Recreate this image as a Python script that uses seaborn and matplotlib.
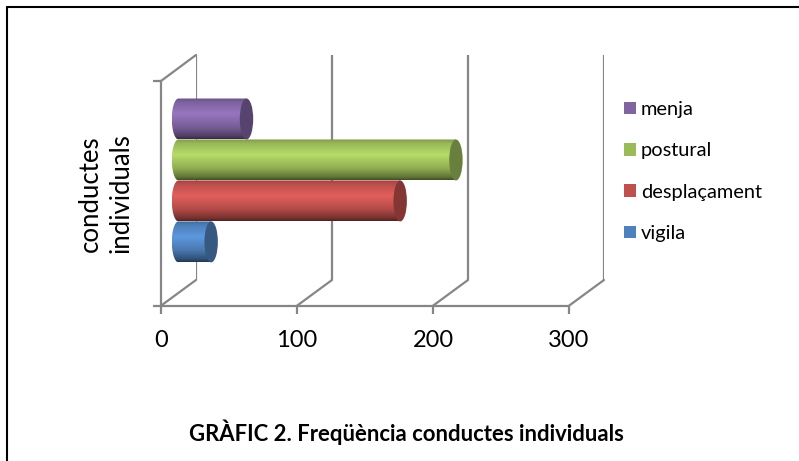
import numpy as np
import pandas as pd
import matplotlib
matplotlib.use("Agg")
import matplotlib.pyplot as plt
from matplotlib.colors import to_rgb
from matplotlib.patches import ConnectionPatch, Ellipse, PathPatch
from matplotlib.path import Path
import seaborn as sns

CATEGORY = "conductes individuals"
series_names = ["menja", "postural", "desplaçament", "vigila"]
series_values = [50, 204, 163, 24]
series_colors = ["#8064A2", "#9BBB59", "#C0504D", "#4F81BD"]
x_ticks = [0, 100, 200, 300]
y_label = "conductes\nindividuals"
title = "GRÀFIC 2. Freqüència conductes individuals"

W, H = 799, 461
GRID = "#868686"
PX_PER_UNIT = 408 / 300
sns.set_theme(style="white")
plt.rcParams["font.family"] = ["Lato", "DejaVu Sans"]
plt.rcParams["text.color"] = "black"
plt.rcParams["axes.labelcolor"] = "black"
plt.rcParams["xtick.labelcolor"] = "black"
fig = plt.figure(figsize=(W / 100, H / 100), dpi=100, facecolor="white")


def px_axes(x0, y0, x1, y1):
    a = fig.add_axes([x0 / W, 1 - y1 / H, (x1 - x0) / W, (y1 - y0) / H])
    a.patch.set_alpha(0)
    a.set_xlim(x_ticks[0], x_ticks[-1])
    return a


# back wall, front plane, and mid-depth plane holding the cylinders
back = px_axes(196, 55, 604, 280)
front = px_axes(161, 81, 569, 305.7)
MARGIN_PX = 12
bars = px_axes(178.5 - MARGIN_PX, 68.2, 586.5, 292.7)
bar_xlim = (-MARGIN_PX / PX_PER_UNIT, x_ticks[-1])

back.set_ylim(0, 1)
back.set_xticks(x_ticks)
back.tick_params(length=0, labelbottom=False, labelleft=False)
back.set_yticks([])
for s in back.spines.values():
    s.set_visible(False)
back.grid(True, axis="x", color=GRID, lw=1.6)

front.set_ylim(0, 1)
front.set_xticks(x_ticks)
front.set_xticklabels([str(t) for t in x_ticks], fontsize=17, color="black")
front.set_yticks([0, 1])
front.set_yticklabels([])
front.tick_params(axis="both", length=6, width=1.6, color=GRID, direction="out",
                  bottom=True, left=True, pad=11.5)
for name, s in front.spines.items():
    s.set_visible(name in ("left", "bottom"))
    s.set_color(GRID)
    s.set_linewidth(1.6)
front.set_ylabel(y_label, fontsize=18.5, linespacing=1.24, labelpad=0, color="black")
front.yaxis.set_label_coords((133 - 161) / 408, 0.50)

for t in x_ticks:
    fig.add_artist(ConnectionPatch((t, 0), (t, 0), coordsA=front.transData,
                                   coordsB=back.transData, color=GRID, lw=1.6))
fig.add_artist(ConnectionPatch((x_ticks[0], 1), (x_ticks[0], 1), coordsA=front.transData,
                               coordsB=back.transData, color=GRID, lw=1.6))

df = pd.DataFrame({"cat": [CATEGORY] * 4, "serie": series_names, "valor": series_values})
sns.barplot(data=df, x="valor", y="cat", hue="serie", hue_order=series_names,
            palette=series_colors, orient="h", width=0.73, ax=bars, saturation=1,
            linewidth=0)
bars.set_xlabel("")
bars.set_ylabel("")
bars.set_xticks([])
bars.set_yticks([])
for s in bars.spines.values():
    s.set_visible(False)

handles, labels = bars.get_legend_handles_labels()
bars.get_legend().remove()

# cylinder shading on each seaborn bar
rx = 6.7 / PX_PER_UNIT
stops = np.array([0.0, 0.1, 0.38, 0.72, 0.93, 1.0])
mult = np.array([0.82, 0.98, 1.18, 0.92, 0.62, 0.42])
ylim = bars.get_ylim()
patches = [p for c in bars.containers for p in c]
for p, col in zip(patches, series_colors):
    x, y, w, h = p.get_x(), p.get_y(), p.get_width(), p.get_height()
    y0, y1 = min(y, y + h), max(y, y + h)
    p.set_visible(False)
    rgb = np.array(to_rgb(col))
    g = np.interp(np.linspace(0, 1, 128), stops, mult)[:, None, None] * rgb[None, None, :]
    g = np.clip(g, 0, 1)
    im = bars.imshow(g, extent=(x - rx, x + w, y1, y0), aspect="auto", zorder=3,
                     interpolation="bilinear")
    t = np.linspace(np.pi / 2, 3 * np.pi / 2, 40)
    yc, ry = (y0 + y1) / 2, (y1 - y0) / 2
    left = np.c_[x + rx * np.cos(t), yc - ry * np.sin(t)]
    verts = np.vstack([[[x + w, y0]], left, [[x + w, y1]], [[x + w, y0]]])
    clip = PathPatch(Path(verts), transform=bars.transData, fc="none", ec="none")
    bars.add_patch(clip)
    im.set_clip_path(clip)
    bars.add_patch(Ellipse((x + w, yc), 2 * rx, y1 - y0, fc=np.clip(rgb * 0.68, 0, 1),
                           ec="none", zorder=4))
bars.set_xlim(bar_xlim)
bars.set_ylim(ylim)

leg = bars.legend(handles, labels, loc="upper left", frameon=False, fontsize=14.4,
                  bbox_to_anchor=(624 / W, 1 - 101 / H), bbox_transform=fig.transFigure,
                  handlelength=0.6, handleheight=0.6, handletextpad=0.24,
                  labelspacing=1.22, borderpad=0, borderaxespad=0)

fig.text(406 / W, 1 - 432 / H, title, ha="center", va="center", fontsize=15.9, fontweight="bold")

# outer frame: only top and left edges are visible
fig.add_artist(plt.Line2D([6.5 / W, 6.5 / W], [0, 1 - 7.5 / H], color="black", lw=1.5))
fig.add_artist(plt.Line2D([6.5 / W, 1], [1 - 7.5 / H, 1 - 7.5 / H], color="black", lw=1.5))

fig.savefig("out.png", dpi=100)
